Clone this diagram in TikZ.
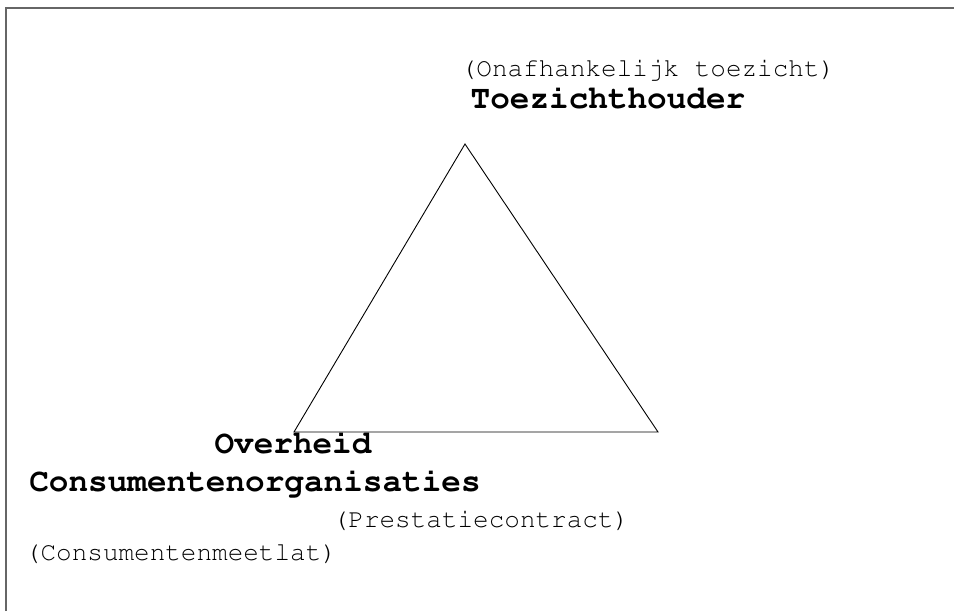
\documentclass[tikz,border=0pt]{standalone}
\usepackage[T1]{fontenc}
\renewcommand{\ttdefault}{pcr}
\begin{document}
\begin{tikzpicture}[x=1pt,y=-1pt,
  lbl/.style={inner sep=0pt,anchor=base,font=\ttfamily\fontsize{26}{26}\selectfont},
  ttl/.style={inner sep=0pt,anchor=base,font=\ttfamily\bfseries\fontsize{32.7}{32.7}\selectfont},
  edge/.style={draw=black,line width=0.9pt}]
\useasboundingbox (0,0) rectangle (954,611);
\fill[white] (0,0) rectangle (954,611);
\draw[gray!80!black,line width=1.6pt] (6,611) -- (6,8) -- (954,8);
\coordinate (top) at (465,144);
\coordinate (bl) at (294,432);
\coordinate (br) at (658,432);
\draw[edge,line join=miter] (top) -- (br) -- (bl) -- cycle;
\node[lbl] (onaf) at (648,76) {(Onafhankelijk toezicht)};
\node[ttl] (toez) at (608,108) {Toezichthouder};
\node[ttl] (over) at (293,453) {Overheid};
\node[ttl] (cons) at (255,491) {Consumentenorganisaties};
\node[lbl] (prest) at (481,527) {(Prestatiecontract)};
\node[lbl] (meet) at (181,560) {(Consumentenmeetlat)};
\end{tikzpicture}
\end{document}
